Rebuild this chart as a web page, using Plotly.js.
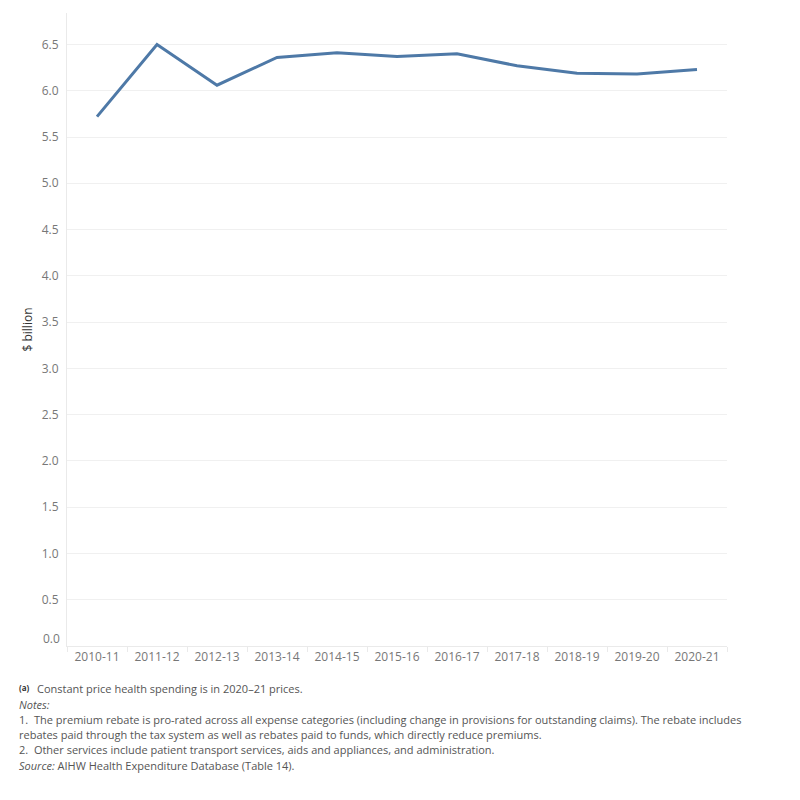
<!DOCTYPE html>
<html><head><meta charset="utf-8">
<script src="https://cdn.plot.ly/plotly-3.0.1.min.js"></script>
<style>body{margin:0;background:#fff}#chart{width:800px;height:800px}</style>
</head><body><div id="chart"></div>
<script>
const years = ["2010-11","2011-12","2012-13","2013-14","2014-15","2015-16","2016-17","2017-18","2018-19","2019-20","2020-21"];
const spending = [5.72, 6.50, 6.06, 6.36, 6.41, 6.37, 6.40, 6.27, 6.19, 6.18, 6.23];
const yTicks = [0,0.5,1,1.5,2,2.5,3,3.5,4,4.5,5,5.5,6,6.5];
const yTickLabels = yTicks.map(v => v.toFixed(1));

const noteFont = {family: "Open Sans, sans-serif", size: 11, color: "#555"};
const notes = [
  {y: 688, x: 35, text: "Constant price health spending is in 2020\u201321 prices."},
  {y: 704, x: 17, text: "<i>Notes:</i>"},
  {y: 719, x: 17, text: "1.  The premium rebate is pro-rated across all expense categories (including change in provisions for outstanding claims). The rebate includes"},
  {y: 734, x: 17, text: "rebates paid through the tax system as well as rebates paid to funds, which directly reduce premiums."},
  {y: 749, x: 17, text: "2.  Other services include patient transport services, aids and appliances, and administration."},
  {y: 765, x: 17, text: "<i>Source:</i> AIHW Health Expenditure Database (Table 14)."}
];
const annotations = notes.map(n => ({
  xref: "paper", yref: "paper", xanchor: "left", yanchor: "middle",
  x: (n.x - 67) / 660, y: (645.7 - n.y) / 632.7,
  text: n.text, showarrow: false, font: noteFont, align: "left"
}));
annotations.push({
  xref: "paper", yref: "paper", xanchor: "left", yanchor: "middle",
  x: (17 - 67) / 660, y: (645.7 - 687) / 632.7,
  text: "<b>(a)</b>", showarrow: false, font: {family: "Open Sans, sans-serif", size: 8, color: "#333"}
});
// bottom tick label sits above its gridline (as in the reference)
annotations.push({
  xref: "paper", yref: "y", xanchor: "right", yanchor: "middle",
  x: -5 / 660, y: yTicks[0], yshift: 8,
  text: yTickLabels[0], showarrow: false,
  font: {family: "Open Sans, sans-serif", size: 12, color: "#777"}
});

const trace = {
  x: years, y: spending, type: "scatter", mode: "lines",
  line: {color: "#4e79a7", width: 3},
  hoverinfo: "x+y"
};

const layout = {
  width: 800, height: 800,
  margin: {l: 67, r: 73, t: 13, b: 154.3},
  paper_bgcolor: "#fff", plot_bgcolor: "#fff",
  showlegend: false,
  font: {family: "Open Sans, sans-serif", color: "#777", size: 12},
  xaxis: {
    type: "category", range: [-0.5, 10.5],
    showgrid: false, zeroline: false,
    showline: true, linecolor: "#eaeaea", linewidth: 1,
    ticks: "outside", tickson: "boundaries", ticklen: 5, tickcolor: "#eaeaea",
    tickfont: {family: "Open Sans, sans-serif", size: 12, color: "#777"}
  },
  yaxis: {
    range: [0, 6.84], tickvals: yTicks, ticktext: yTickLabels.map((t, i) => i === 0 ? "" : t),
    showgrid: true, gridcolor: "#f0f0f0", gridwidth: 1,
    zeroline: false, showline: true, linecolor: "#eaeaea",
    ticks: "", ticklabelstandoff: 5,
    tickfont: {family: "Open Sans, sans-serif", size: 12, color: "#777"},
    title: {text: "$ billion", standoff: 6, font: {family: "Open Sans, sans-serif", size: 12, color: "#333"}}
  },
  annotations: annotations
};

Plotly.newPlot("chart", [trace], layout, {displayModeBar: false, staticPlot: true});
</script></body></html>
